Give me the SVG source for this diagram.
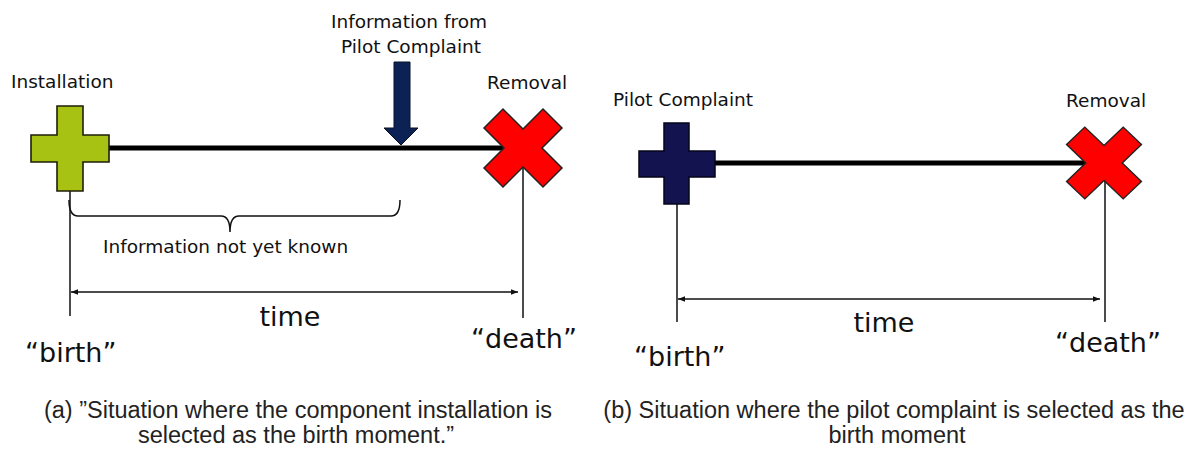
<svg xmlns="http://www.w3.org/2000/svg" width="1198" height="471" viewBox="0 0 1198 471">
<defs>
<style>
.lbl{font-family:"DejaVu Sans",Verdana,sans-serif;font-size:18.5px;fill:#111}
.big{font-family:"DejaVu Sans",Verdana,sans-serif;font-size:27px;fill:#111}
.cap{font-family:"Liberation Sans",Arial,sans-serif;font-size:23.5px;fill:#222}
.tl{stroke:#000;stroke-width:5;fill:none}
.thin{stroke:#111;stroke-width:1.5;fill:none}
.dim{stroke:#111;stroke-width:1.5;fill:none;marker-start:url(#ah);marker-end:url(#ah)}
.redx{fill:#ff0000;stroke:#222;stroke-width:1.5}
</style>
<marker id="ah" viewBox="0 0 10 10" refX="10" refY="5" markerWidth="7" markerHeight="7" markerUnits="userSpaceOnUse" orient="auto-start-reverse">
<path d="M0,1 L10,5 L0,9 Z" fill="#111"/>
</marker>
<polygon id="xshape" points="0,-19 20,-39 39,-20 19,0 39,20 20,39 0,19 -20,39 -39,20 -19,0 -39,-20 -20,-39"/>
</defs>
<rect width="1198" height="471" fill="#fff"/>

<g id="connectors">
<line class="tl" x1="100" y1="148" x2="508" y2="148"/>
<line class="tl" x1="705" y1="163" x2="1088" y2="163"/>
<line class="thin" x1="70" y1="191" x2="70" y2="316"/>
<line class="thin" x1="523" y1="160" x2="523" y2="318"/>
<line class="thin" x1="677" y1="204" x2="677" y2="322"/>
<line class="thin" x1="1105" y1="175" x2="1105" y2="322"/>
<line class="dim" x1="71" y1="292" x2="518" y2="292"/>
<line class="dim" x1="678" y1="299" x2="1100" y2="299"/>
<path class="thin" d="M69,200 Q69,216 78,216 L221,216 Q230,216 230,232 Q230,216 239,216 L391,216 Q400,216 400,200"/>
</g>

<g id="installation">
<polygon points="57,106 83,106 83,135 109,135 109,162 83,162 83,191 57,191 57,162 31,162 31,135 57,135" fill="#a8c213" stroke="#1e1e0a" stroke-width="1.6"/>
<text class="lbl" x="11" y="88">Installation</text>
</g>

<g id="pilot-info">
<polygon points="394,62 410,62 410,128 418,128 401,145 384,128 394,128" fill="#0c2255" stroke="#0a1020" stroke-width="1"/>
<text class="lbl" x="409" y="28" text-anchor="middle">Information from</text>
<text class="lbl" x="411" y="53" text-anchor="middle">Pilot Complaint</text>
</g>

<g id="removal-a">
<use href="#xshape" transform="translate(523,148)" class="redx"/>
<text class="lbl" x="487" y="89">Removal</text>
</g>

<g id="unknown">
<text class="lbl" x="103" y="253">Information not yet known</text>
</g>

<g id="labels-a">
<text class="big" x="290" y="326" text-anchor="middle">time</text>
<text class="big" x="25" y="362">“birth”</text>
<text class="big" x="471" y="348">“death”</text>
</g>

<g id="pilot-complaint">
<polygon points="664,123 689,123 689,151 715,151 715,177 689,177 689,204 664,204 664,177 639,177 639,151 664,151" fill="#13134f" stroke="#05051a" stroke-width="1.5"/>
<text class="lbl" x="613" y="106">Pilot Complaint</text>
</g>

<g id="removal-b">
<use href="#xshape" transform="translate(1104,163) scale(0.96,0.92)" class="redx"/>
<text class="lbl" x="1066" y="107">Removal</text>
</g>

<g id="labels-b">
<text class="big" x="884" y="332" text-anchor="middle">time</text>
<text class="big" x="634" y="366">“birth”</text>
<text class="big" x="1055" y="352">“death”</text>
</g>

<g id="captions">
<text class="cap" x="298" y="418" text-anchor="middle">(a) ”Situation where the component installation is</text>
<text class="cap" x="296" y="443" text-anchor="middle">selected as the birth moment.”</text>
<text class="cap" x="894" y="418" text-anchor="middle">(b) Situation where the pilot complaint is selected as the</text>
<text class="cap" x="897" y="443" text-anchor="middle">birth moment</text>
</g>
</svg>
